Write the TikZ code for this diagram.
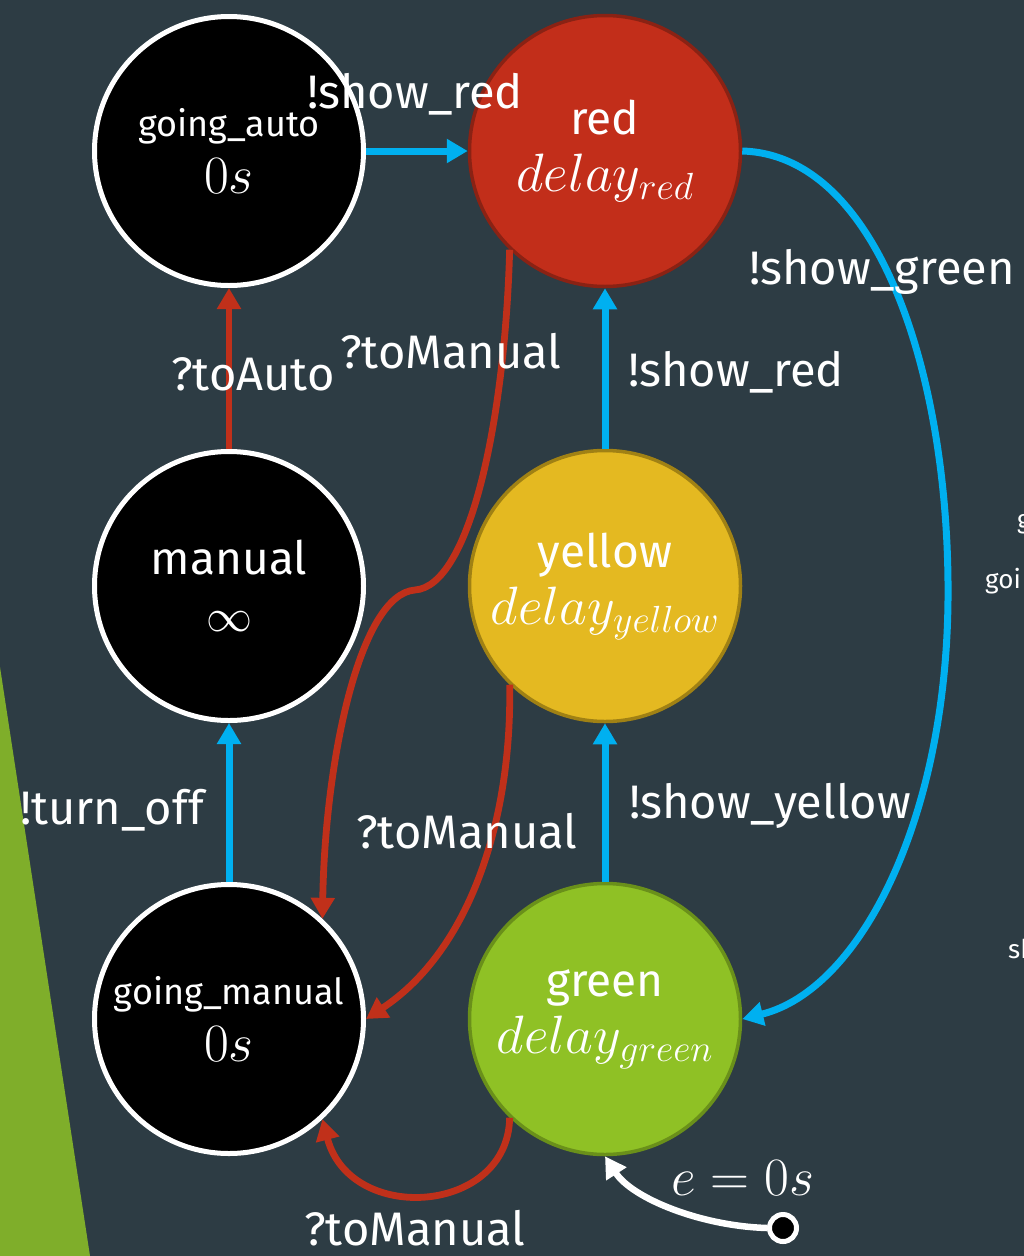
\RequirePackage{fix-cm}
\documentclass[tikz,border=0pt]{standalone}
\usepackage[no-math]{fontspec}
\setmainfont{Fira Sans}
\usetikzlibrary{arrows.meta}
\definecolor{bg}{HTML}{2D3C44}
\definecolor{trigreen}{HTML}{7FAE2A}
\definecolor{redfill}{HTML}{C22E1A}
\definecolor{redline}{HTML}{8A2214}
\definecolor{yelfill}{HTML}{E4B921}
\definecolor{yelline}{HTML}{A08114}
\definecolor{grnfill}{HTML}{8FC125}
\definecolor{grnline}{HTML}{6A901A}
\definecolor{cblue}{HTML}{00B0F0}
\definecolor{cred}{HTML}{C0301A}
\newcommand{\mathline}[1]{{\fontsize{54}{60}\selectfont $#1$}}
\newcommand{\smallname}[1]{{\fontsize{36}{40}\selectfont #1}}
\tikzset{
  st/.style={circle, inner sep=0pt, minimum size=269pt, align=center, text=white,
    font=\fontsize{46}{57}\selectfont},
  blk/.style={st, fill=black, draw=white, line width=5pt},
  clr/.style={st, line width=3.5pt, minimum size=271pt},
  lbl/.style={text=white, anchor=base, inner sep=0pt, font=\fontsize{47}{54}\selectfont},
  small/.style={text=white, anchor=base west, inner sep=0pt, font=\fontsize{26}{30}\selectfont},
  bluearr/.style={draw=cblue, line width=7pt, -{Triangle[length=21pt,width=23pt]}},
  redarr/.style={draw=cred, line width=6.8pt, -{Triangle[length=21pt,width=23pt]}},
  whitearr/.style={draw=white, line width=6.5pt, -{Triangle[length=21pt,width=23pt]}},
}
\begin{document}
\begin{tikzpicture}[x=1pt,y=-1pt]
\fill[bg] (0,0) rectangle (1024,1256);
\useasboundingbox (0,0) rectangle (1024,1256);
\fill[trigreen] (0,667) -- (90,1256) -- (0,1256) -- cycle;

% states
\node[blk] (ga) at (229,151) {\smallname{going\_auto}\\\mathline{0s}};
\node[clr, fill=redfill, draw=redline] (red) at (605,151) {red\\\mathline{delay_{red}}};
\node[blk] (man) at (229,586) {manual\\$\infty$};
\node[clr, fill=yelfill, draw=yelline] (yel) at (605,586) {yellow\\\mathline{delay_{yellow}}};
\node[blk] (gm) at (229,1019) {\smallname{going\_manual}\\\mathline{0s}};
\node[clr, fill=grnfill, draw=grnline] (grn) at (605,1019) {green\\\mathline{delay_{green}}};
\node[circle, inner sep=0pt, minimum size=27pt, fill=black, draw=white, line width=5pt] (init) at (783,1228) {};

% straight connectors
\draw[bluearr] (ga) -- (red);
\draw[redarr] (man) -- (ga);
\draw[bluearr] (gm) -- (man);
\draw[bluearr] (yel) -- (red);
\draw[bluearr] (grn) -- (yel);

% curved connectors
\draw[bluearr] (red.east) .. controls (880,155) and (950,380) .. (948,600)
   .. controls (946,820) and (860,990) .. (grn.east);
\draw[redarr] (red.226) .. controls (505,420) and (470,586) .. (415,590)
   .. controls (360,594) and (325,760) .. (gm.47);
\draw[redarr] (yel.226) .. controls (512,820) and (470,950) .. (gm.east);
\draw[redarr] (grn.226) .. controls (508,1215) and (350,1225) .. (gm.-47);
\draw[whitearr] (init.west) .. controls (700,1226) and (632,1198) .. (grn.south);

% labels
\node[lbl] (l1) at (415,108) {!show\_red};
\node[lbl] (l2) at (253,390) {?toAuto};
\node[lbl] (l3) at (451,368) {?toManual};
\node[lbl] (l4) at (882,284) {!show\_green};
\node[lbl] (l5) at (736,386) {!show\_red};
\node[lbl] (l6) at (112,824) {!turn\_off};
\node[lbl] (l7) at (467,848) {?toManual};
\node[lbl] (l8) at (770,818) {!show\_yellow};
\node[lbl] (l9) at (415,1245) {?toManual};
\node[lbl] (l10) at (743,1195) {\mathline{e=0s}};

% cut-off texts at right edge
\node[small] (c1) at (1017,528) {g};
\node[small] (c2) at (985,588) {goi};
\node[small] (c3) at (1008,958) {sh};
\end{tikzpicture}
\end{document}
